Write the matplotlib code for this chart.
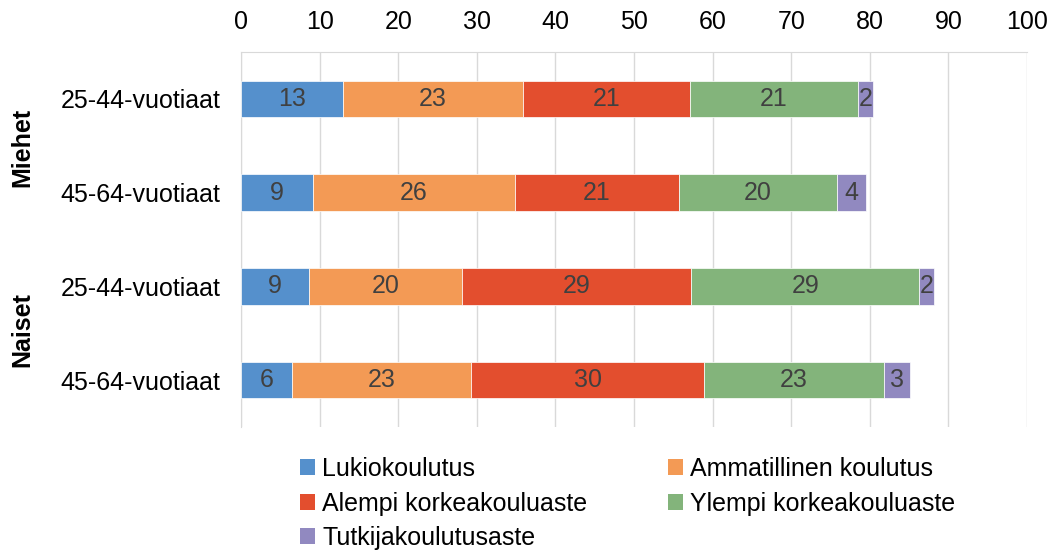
import matplotlib
matplotlib.use("Agg")
import matplotlib.pyplot as plt
from matplotlib.patches import Patch

plt.rcParams['font.family'] = ['Liberation Sans', 'DejaVu Sans']

groups = ["Miehet", "Naiset"]
ages = ["25-44-vuotiaat", "45-64-vuotiaat", "25-44-vuotiaat", "45-64-vuotiaat"]
series = ["Lukiokoulutus", "Ammatillinen koulutus", "Alempi korkeakouluaste",
          "Ylempi korkeakouluaste", "Tutkijakoulutusaste"]
lukio = [12.98, 9.18, 8.62, 6.46]
ammat = [22.85, 25.63, 19.55, 22.85]
alempi = [21.31, 20.92, 29.14, 29.59]
ylempi = [21.37, 20.12, 28.97, 22.85]
tutkija = [1.93, 3.69, 1.95, 3.34]
values = [lukio, ammat, alempi, ylempi, tutkija]
colors = ["#5590CC", "#F39A55", "#E34E2E", "#83B47B", "#9189C0"]
xticks = [0, 10, 20, 30, 40, 50, 60, 70, 80, 90, 100]

FS = 18
fig = plt.figure(figsize=(10.56, 5.5), dpi=100)
ax = fig.add_axes([241/1056, 1-427/550, (1027-241)/1056, (427-52)/550])

ypos = list(range(len(ages)))
left = [0.0]*len(ages)
for name, vals, c in zip(series, values, colors):
    ax.barh(ypos, vals, left=left, height=0.39, color=c, label=name,
            edgecolor="white", linewidth=0.5, zorder=3)
    for y, l, v in zip(ypos, left, vals):
        ax.text(l + v/2, y, f"{round(v):d}", ha="center", va="center",
                fontsize=FS, color="#404040", zorder=4)
    left = [l + v for l, v in zip(left, vals)]

ax.set_xlim(0, 100)
ax.set_ylim(len(ages)-0.5, -0.5)
ax.set_xticks(xticks)
ax.set_xticklabels([str(t) for t in xticks], fontsize=FS)
ax.xaxis.tick_top()
ax.tick_params(axis="x", length=0, pad=13, colors="black")
ax.set_yticks(ypos)
ax.set_yticklabels(ages, fontsize=FS)
ax.tick_params(axis="y", length=0, pad=15)
ax.grid(axis="x", color="#D9D9D9", linewidth=1, zorder=0)
for s in ["right", "bottom"]:
    ax.spines[s].set_visible(False)
ax.spines["top"].set_color("#D9D9D9")
ax.spines["left"].set_color("#D9D9D9")

# group labels
fig.text(22/1056, 1-147/550, groups[0], rotation=90, ha="center", va="center",
         fontsize=FS, fontweight="bold")
fig.text(22/1056, 1-330/550, groups[1], rotation=90, ha="center", va="center",
         fontsize=FS, fontweight="bold")

handles = [Patch(facecolor=c, label=s) for s, c in zip(series, colors)]
order = [0, 2, 4, 1, 3]
fig.legend(handles=[handles[i] for i in order], ncol=2, loc="upper left",
           bbox_to_anchor=(290/1056, 1-447/550), frameon=False, fontsize=FS,
           handlelength=0.6, handleheight=0.6, handletextpad=0.3,
           columnspacing=3.2, labelspacing=0.42, borderaxespad=0)

fig.savefig("out.png", dpi=100)
